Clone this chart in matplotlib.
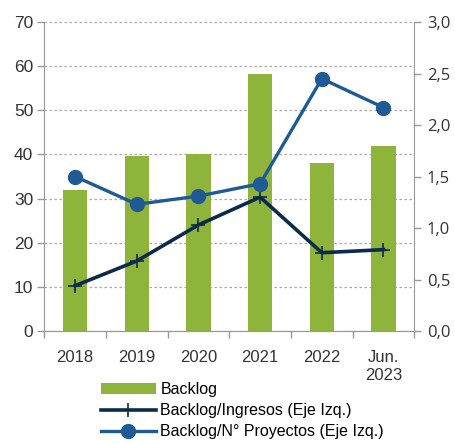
import numpy as np
import matplotlib.pyplot as plt
from matplotlib.ticker import FuncFormatter

years = ['2018', '2019', '2020', '2021', '2022', 'Jun.\n2023']
backlog = [31.9, 39.7, 40.2, 58.3, 38.0, 41.9]
backlog_ingresos = [0.44, 0.68, 1.03, 1.30, 0.76, 0.79]
backlog_proyectos = [1.50, 1.23, 1.31, 1.43, 2.45, 2.17]

green = '#8fb43c'
navy = '#0c2b4b'
blue = '#1f5a94'
grey = '#999999'
narrow = ['Liberation Sans Narrow', 'Liberation Sans', 'DejaVu Sans']

fig = plt.figure(figsize=(4.56, 4.43), dpi=100)
ax = fig.add_axes([0.0972, 0.2528, 0.8114, 0.6975])
ax2 = ax.twinx()

x = np.arange(len(years))
bars = ax.bar(x, backlog, 0.39, color=green, label='Backlog', zorder=2)
l1, = ax2.plot(x, backlog_ingresos, color=navy, lw=2.6, marker='+', ms=10,
               mew=1.2, label='Backlog/Ingresos (Eje Izq.)')
l2, = ax2.plot(x, backlog_proyectos, color=blue, lw=2.4, marker='o', ms=10,
               label='Backlog/N° Proyectos (Eje Izq.)')

ax.set_xlim(-0.5, len(years) - 0.5)
ax.set_ylim(0, 70)
ax.set_yticks(range(0, 71, 10))
ax2.set_ylim(0, 3.0)
ax2.set_yticks(np.arange(0, 3.01, 0.5))
ax2.yaxis.set_major_formatter(FuncFormatter(lambda v, p: f'{v:.1f}'.replace('.', ',')))

ax.yaxis.grid(True, ls=(0, (2, 2)), color='#aaaaaa', lw=0.9, zorder=0)
ax.set_axisbelow(True)

ax.set_xticks(x)
ax.set_xticklabels(years, family=narrow, fontsize=12, color='#333333',
                   linespacing=1.25)
ax.set_xticks(np.arange(-0.5, len(years)), minor=True)
ax.tick_params(axis='x', which='major', length=0, pad=14)
ax.tick_params(axis='x', which='minor', length=5, color=grey, width=1)
ax.tick_params(axis='y', length=5, color=grey, width=1, labelsize=12.5,
               labelcolor='#333333', pad=3)
for t in ax.get_yticklabels():
    t.set_family(narrow)
ax2.tick_params(axis='y', length=5, color=grey, width=1, labelsize=12,
                labelcolor='#333333', pad=4)
for t in ax2.get_yticklabels():
    t.set_family(['Open Sans', 'DejaVu Sans'])

for a in (ax, ax2):
    a.spines['top'].set_visible(False)
    a.spines['left'].set_color(grey)
    a.spines['right'].set_color(grey)
    a.spines['bottom'].set_color(grey)
ax2.spines['left'].set_visible(False)
ax.spines['right'].set_visible(False)

fig.legend([bars, l1, l2], [bars.get_label(), l1.get_label(), l2.get_label()],
           loc='upper left', bbox_to_anchor=(0.222, 0.137), frameon=False,
           prop={'family': narrow, 'size': 11.5}, handlelength=3.4,
           handletextpad=0.3, labelspacing=0.38, borderpad=0, borderaxespad=0)

fig.savefig('out.png', dpi=100)
